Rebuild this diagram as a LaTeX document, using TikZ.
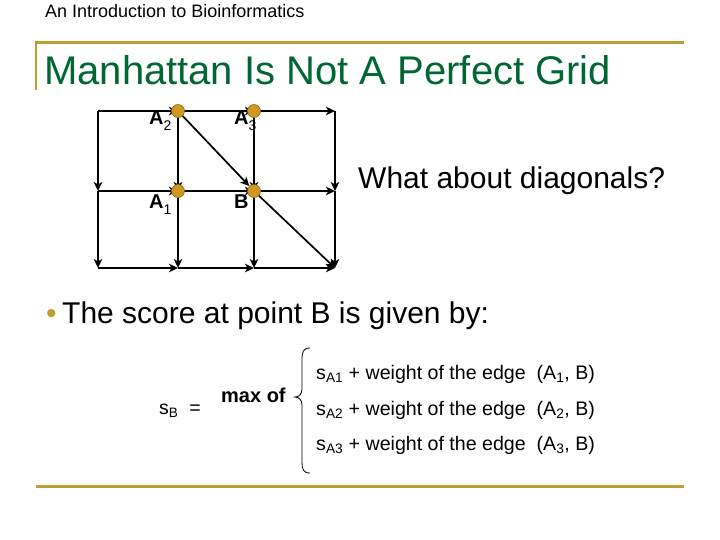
\documentclass[tikz,border=0pt]{standalone}
\usepackage{fontspec}
\setmainfont{Liberation Sans}
\usetikzlibrary{arrows.meta}
\definecolor{linegold}{RGB}{190,158,48}
\definecolor{dotgold}{RGB}{206,152,32}
\definecolor{dotedge}{RGB}{150,105,20}
\definecolor{titlegreen}{RGB}{0,102,51}
\newcommand{\lsub}[1]{\raisebox{-0.3em}{\fontsize{14}{14}\selectfont\mdseries #1}}

\begin{document}
\begin{tikzpicture}[x=1pt, y=-1pt,
            edge/.style={line width=1.7pt, -{Stealth[length=9pt, width=8.5pt, inset=2.5pt]}},
            dot/.style={circle, draw=dotedge, fill=dotgold, line width=0.6pt, inner sep=0pt, minimum size=13pt},
            lbl/.style={anchor=base west, font=\fontsize{20}{22}\selectfont\bfseries, inner sep=0pt},
            rule/.style={draw=linegold, line width=3pt}]
            \useasboundingbox (0, 0) rectangle (720, 540);
            % frame of the slide
            \draw[rule] (35, 43) -- (684, 43);
            \draw[rule, line width=2pt] (36, 43) -- (36, 90);
            \draw[rule] (36, 486) -- (684, 486);
            \node[anchor=base west, inner sep=0pt, font=\fontsize{18}{20}\selectfont] (head) at (45, 18) {An Introduction to Bioinformatics};
            \node[anchor=base west, inner sep=0pt, text=titlegreen, font=\fontsize{40}{44}\selectfont] (title) at (44, 85) {Manhattan Is Not A Perfect Grid};
            % grid points
            \coordinate (g00) at (98, 111);  \coordinate (g10) at (178, 111);
            \coordinate (g20) at (254, 111); \coordinate (g30) at (335, 111);
            \coordinate (g01) at (98, 191);  \coordinate (g11) at (178, 191);
            \coordinate (g21) at (254, 191); \coordinate (g31) at (335, 191);
            \coordinate (g02) at (98, 268);  \coordinate (g12) at (178, 268);
            \coordinate (g22) at (254, 268); \coordinate (g32) at (335, 268);
            % horizontal edges
            \draw[edge] (g00) -- (g10);
            \draw[edge] (g10) -- (g20);
            \draw[edge] (g20) -- (g30);
            \draw[edge] (g01) -- (g11);
            \draw[edge] (g11) -- (g21);
            \draw[edge] (g21) -- (g31);
            \draw[edge] (g02) -- (g12);
            \draw[edge] (g12) -- (g22);
            \draw[edge] (g22) -- (g32);
            % vertical edges
            \draw[edge] (g00) -- (g01);
            \draw[edge] (g01) -- (g02);
            \draw[edge] (g10) -- (g11);
            \draw[edge] (g11) -- (g12);
            \draw[edge] (g20) -- (g21);
            \draw[edge] (g21) -- (g22);
            \draw[edge] (g30) -- (g31);
            \draw[edge] (g31) -- (g32);
            % the points that feed B
            \node[dot] (A2) at (g10) {};
            \node[dot] (A3) at (g20) {};
            \node[dot] (A1) at (g11) {};
            \node[dot] (B) at (g21) {};
            % diagonals
            \draw[edge] (A2) -- (B);
            \draw[edge] (B) -- (g32);
            \node[lbl] (lA2) at (149, 125) {A\lsub{2}};
            \node[lbl] (lA3) at (234, 125) {A\lsub{3}};
            \node[lbl] (lA1) at (149, 208) {A\lsub{1}};
            \node[lbl] (lB) at (234, 208) {B};
            \node[anchor=base west, inner sep=0pt, font=\fontsize{30}{34}\selectfont] (diag) at (358, 189) {What about diagonals?};
            % the recurrence
            \node[anchor=base west, inner sep=0pt, text=linegold, font=\fontsize{30}{34}\selectfont] (bul) at (46, 323) {\textbullet};
            \node[anchor=base west, inner sep=0pt, font=\fontsize{30}{34}\selectfont] (score) at (62, 323) {The score at point B is given by:};
            \node[anchor=base west, inner sep=0pt, font=\fontsize{19.5}{22}\selectfont] (sB) at (159, 414) {s\textsubscript{B}\ \ =};
            \node[anchor=base west, inner sep=0pt, font=\fontsize{20}{22}\selectfont\bfseries] (max) at (221, 402) {max of};
            \draw[line width=0.8pt] (310, 348) .. controls (303, 348) and (302, 352) .. (302, 360) -- (302, 389)
                .. controls (302, 394) and (299, 397) .. (295, 397)
                .. controls (299, 397) and (302, 400) .. (302, 405) -- (302, 462)
                .. controls (302, 469) and (303, 473) .. (310, 473);
            \node[anchor=base west, inner sep=0pt, font=\fontsize{19.6}{22}\selectfont] (r1) at (316, 379) {s\textsubscript{A1} + weight of the edge\ \ (A\textsubscript{1}, B)};
            \node[anchor=base west, inner sep=0pt, font=\fontsize{19.6}{22}\selectfont] (r2) at (316, 415) {s\textsubscript{A2} + weight of the edge\ \ (A\textsubscript{2}, B)};
            \node[anchor=base west, inner sep=0pt, font=\fontsize{19.6}{22}\selectfont] (r3) at (316, 450) {s\textsubscript{A3} + weight of the edge\ \ (A\textsubscript{3}, B)};
          \end{tikzpicture}
\end{document}
